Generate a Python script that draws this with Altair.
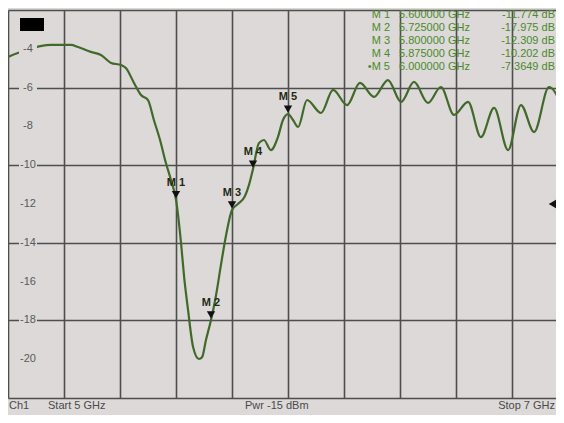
import altair as alt
import pandas as pd

# ---------------- data ----------------
freq_ghz = [5.000, 5.064, 5.154, 5.225, 5.250, 5.296, 5.332, 5.368, 5.404, 5.421,
            5.450, 5.475, 5.500, 5.521, 5.543, 5.564, 5.582, 5.600, 5.618, 5.629,
            5.643, 5.661, 5.682, 5.693, 5.707, 5.725, 5.743, 5.761, 5.779, 5.800,
            5.821, 5.846, 5.861, 5.875, 5.896, 5.914, 5.939, 5.964, 5.982, 6.000,
            6.018, 6.036, 6.068, 6.118, 6.161, 6.211, 6.257, 6.307, 6.357, 6.404,
            6.450, 6.500, 6.546, 6.593, 6.643, 6.689, 6.736, 6.786, 6.832, 6.879,
            6.932, 6.986]
s11_db = [-4.42, -4.06, -3.80, -3.80, -3.91, -4.16, -4.32, -4.73, -4.84, -4.99,
          -5.76, -6.38, -6.64, -7.67, -8.70, -9.89, -10.76, -11.774, -14.01, -15.76,
          -17.46, -19.37, -19.99, -19.90, -19.01, -17.975, -16.70, -15.10, -13.60, -12.309,
          -12.00, -11.60, -11.00, -10.202, -8.86, -8.70, -9.22, -8.55, -7.67, -7.3649,
          -7.67, -8.03, -6.64, -7.31, -6.12, -6.90, -5.76, -6.48, -5.61, -6.74,
          -5.71, -6.79, -5.97, -7.41, -6.74, -8.55, -7.05, -9.22, -6.90, -8.29,
          -5.97, -7.26]

marker_names = ["M 1", "M 2", "M 3", "M 4", "M 5"]
marker_table_names = ["M 1", "M 2", "M 3", "M 4", "\u2022M 5"]
marker_freq = [5.600, 5.725, 5.800, 5.875, 6.000]
marker_db = [-11.774, -17.975, -12.309, -10.202, -7.3649]
marker_freq_text = ["5.600000 GHz", "5.725000 GHz", "5.800000 GHz", "5.875000 GHz", "6.000000 GHz"]
marker_db_text = ["-11.774 dB", "-17.975 dB", "-12.309 dB", "-10.202 dB", "-7.3649 dB"]

x_grid = [5.0, 5.2, 5.4, 5.6, 5.8, 6.0, 6.2, 6.4, 6.6, 6.8]
y_grid = [-22, -20, -18, -16, -14, -12, -10, -8, -6, -4, -2]
y_labels = [-4, -6, -8, -10, -12, -14, -16, -18, -20]
ref_level = [-12]

status_left1 = "Ch1"
status_left2 = "Start  5 GHz"
status_mid = "Pwr  -15 dBm"
status_right = "Stop  7 GHz"

# ---------------- layout ----------------
W, H = 548, 388
X_END = 5 + W / 280.0
BG = "#dcd9d8"
GRID = "#4e4e4e"
TRACE = "#41692a"
TXT_GREEN = "#4b8a2b"
FONT = "Liberation Sans"

xs = alt.Scale(domain=[5.0, X_END], nice=False, zero=False)
ys = alt.Scale(domain=[-22, -2], nice=False, zero=False)

trace_df = pd.DataFrame({"f": freq_ghz, "db": s11_db})
mk_df = pd.DataFrame({"name": marker_names, "f": marker_freq, "db": marker_db})
lab_df = pd.DataFrame({"v": y_labels, "t": [str(v) for v in y_labels]})
ref_df = pd.DataFrame({"f": [X_END - 0.012], "db": ref_level})

base_x = alt.X("f:Q", scale=xs,
               axis=alt.Axis(values=x_grid, labels=False, ticks=False, domain=False,
                             title=None, grid=True, gridColor=GRID, gridWidth=1.6,
                             gridOpacity=1))
base_y = alt.Y("db:Q", scale=ys,
               axis=alt.Axis(values=y_grid, labels=False, ticks=False, domain=False,
                             title=None, grid=True, gridColor=GRID, gridWidth=1.6,
                             gridOpacity=1))

trace = alt.Chart(trace_df).mark_line(
    color=TRACE, strokeWidth=2.2, interpolate="monotone", clip=True
).encode(x=base_x, y=base_y)

label_bg = alt.Chart(lab_df).mark_rect(color=BG, yOffset=-6, y2Offset=6).encode(
    x=alt.value(11), x2=alt.value(29),
    y=alt.Y("v:Q", scale=ys), y2="v:Q")
label_txt = alt.Chart(lab_df).mark_text(
    font=FONT, fontSize=11, color="#5a5a5a", align="center", baseline="middle"
).encode(x=alt.value(20), y=alt.Y("v:Q", scale=ys), text="t:N")

tri = alt.Chart(mk_df).mark_point(
    shape="triangle-down", filled=True, color="#111111", size=70, yOffset=-5, opacity=1
).encode(x=alt.X("f:Q", scale=xs), y=alt.Y("db:Q", scale=ys))
tri_lab = alt.Chart(mk_df).mark_text(
    font=FONT, fontSize=11, fontWeight="bold", color="#1e2a14", dy=-17
).encode(x=alt.X("f:Q", scale=xs), y=alt.Y("db:Q", scale=ys), text="name:N")

ref_tri = alt.Chart(ref_df).mark_point(
    shape="triangle-left", filled=True, color="#111111", size=80, opacity=1, clip=False
).encode(x=alt.X("f:Q", scale=xs), y=alt.Y("db:Q", scale=ys))

layers = [trace, label_bg, label_txt, tri, tri_lab, ref_tri]

# marker table (upper right)
row0, row_step = 5, 13
for i in range(len(marker_names)):
    yv = row0 + i * row_step
    one = pd.DataFrame({"a": [marker_table_names[i]], "b": [marker_freq_text[i]],
                        "c": [marker_db_text[i]]})
    layers.append(alt.Chart(one).mark_text(font=FONT, fontSize=11, color=TXT_GREEN,
                                           align="right", baseline="middle")
                  .encode(x=alt.value(382), y=alt.value(yv), text="a:N"))
    layers.append(alt.Chart(one).mark_text(font=FONT, fontSize=11, color=TXT_GREEN,
                                           align="left", baseline="middle")
                  .encode(x=alt.value(391), y=alt.value(yv), text="b:N"))
    layers.append(alt.Chart(one).mark_text(font=FONT, fontSize=11, color=TXT_GREEN,
                                           align="right", baseline="middle")
                  .encode(x=alt.value(547), y=alt.value(yv), text="c:N"))

# top-left black block
blk = pd.DataFrame({"k": [0]})
layers.append(alt.Chart(blk).mark_rect(color="#000000").encode(
    x=alt.value(12), x2=alt.value(36), y=alt.value(8), y2=alt.value(21)))

# status bar text
for txt, xv, al in [(status_left1, 1, "left"), (status_left2, 40, "left"),
                    (status_mid, 237, "left"), (status_right, 547, "right")]:
    one = pd.DataFrame({"t": [txt]})
    layers.append(alt.Chart(one).mark_text(font=FONT, fontSize=11, color="#4a4a4a",
                                           align=al, baseline="middle")
                  .encode(x=alt.value(xv), y=alt.value(H + 8), text="t:N"))

chart = alt.layer(*layers).properties(
    width=W, height=H, background=BG,
    autosize=alt.AutoSizeParams(type="none"),
    padding={"left": 0, "top": 2, "right": 0, "bottom": 17},
).configure_view(stroke=None, fill=BG)

chart.save("out.html", embed_options={"renderer": "svg", "actions": False})
